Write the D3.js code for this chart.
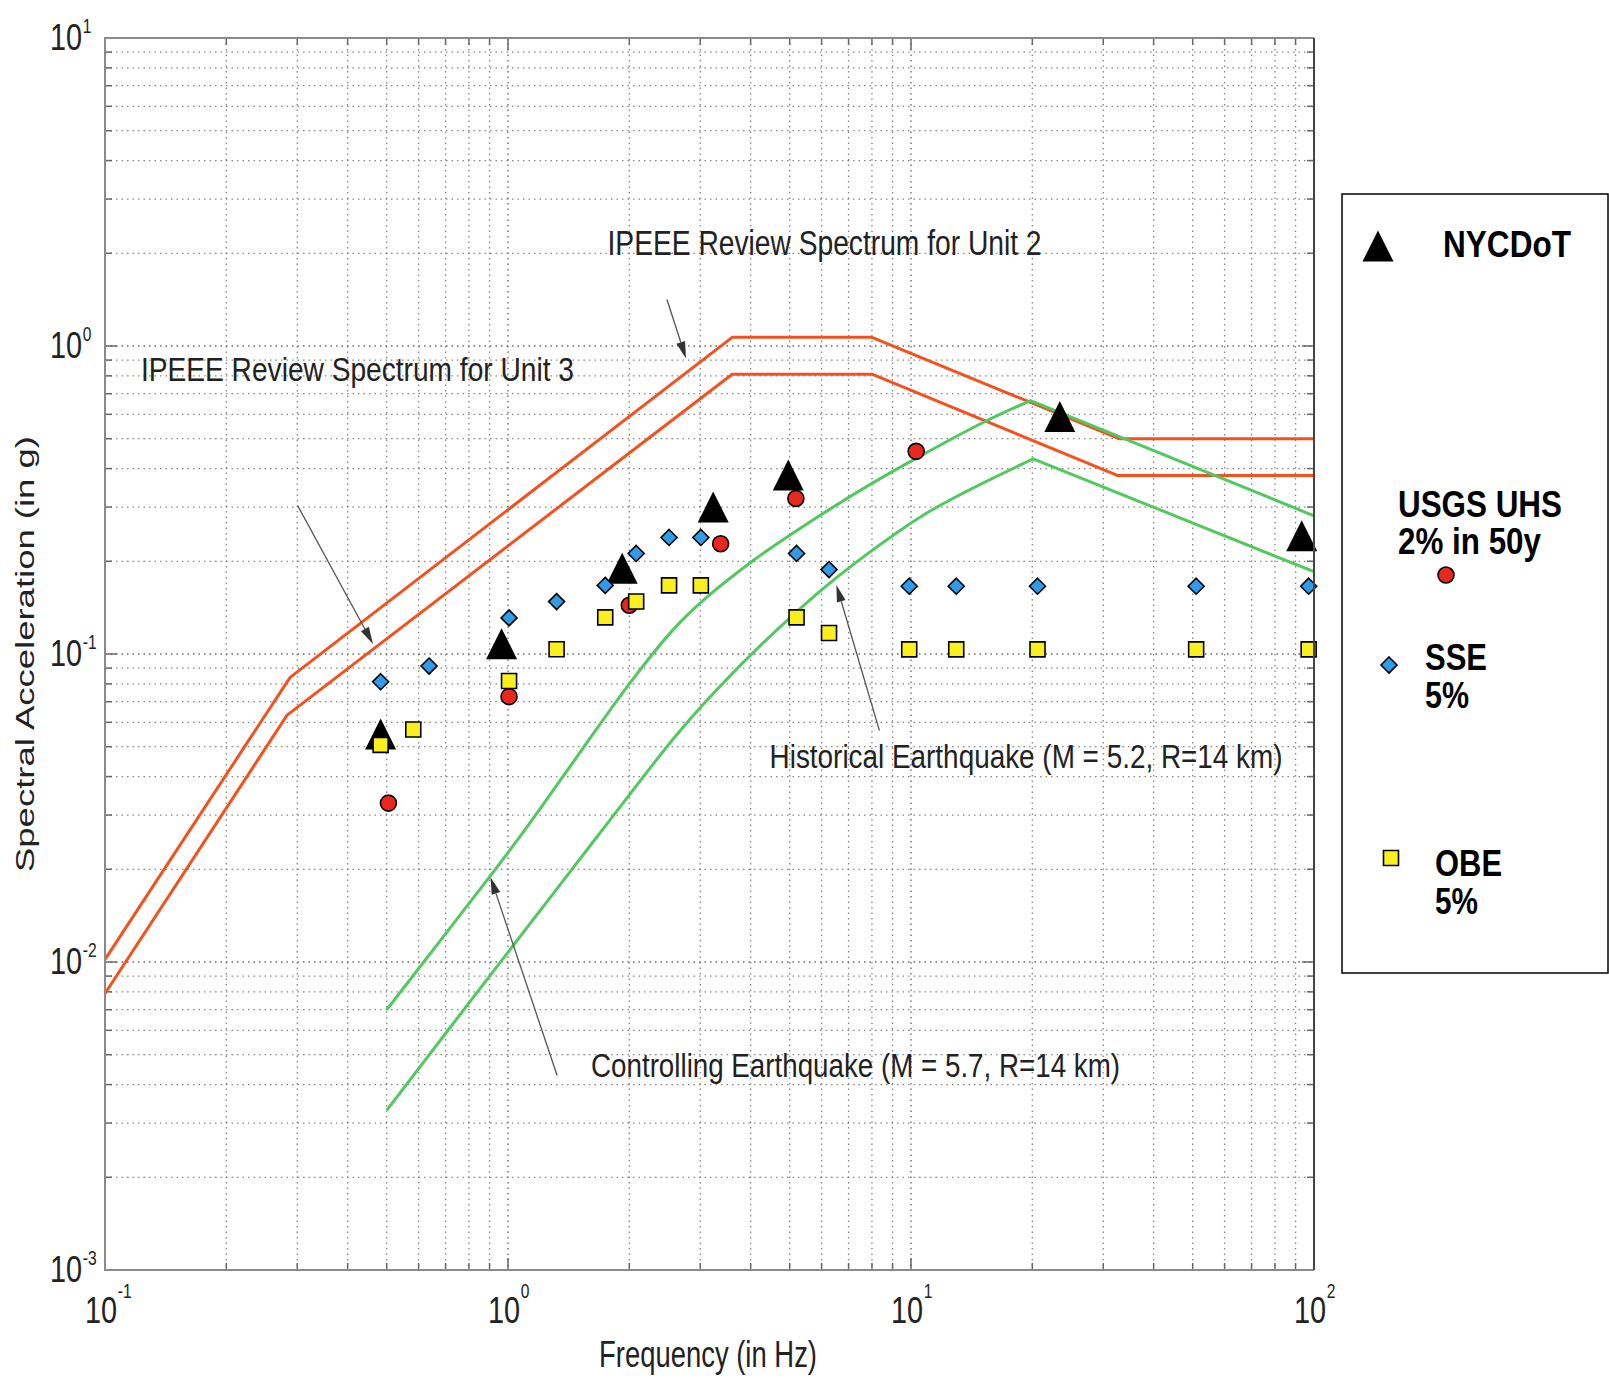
<!DOCTYPE html>
<html>
<head>
<meta charset="utf-8">
<script src="https://cdn.jsdelivr.net/npm/d3@7"></script>
<style>
  body { margin: 0; background: #fff; }
  svg { display: block; font-family: "Liberation Sans", Arial, sans-serif; }
</style>
</head>
<body>
<div class="chart"></div>
<script>
// IPEEE review spectra (red)
const unit2Freq = [0.1, 0.288, 3.6, 8, 32.8, 100];
const unit2Acc  = [0.0102, 0.084, 1.067, 1.067, 0.50, 0.50];
const unit3Freq = [0.1, 0.283, 3.6, 8, 32.5, 100];
const unit3Acc  = [0.0079, 0.0633, 0.81, 0.81, 0.38, 0.38];

// earthquake spectra (green), rising branch up to the peak, then the falling branch
const ctrlFreq = [0.5, 0.9, 1.1, 1.45, 2.0, 2.57, 3.1, 4.1, 5.2, 6.2, 8.0, 10, 15.4, 19.8, 100];
const ctrlAcc  = [0.0070, 0.0189, 0.0268, 0.0445, 0.080, 0.120, 0.152, 0.203, 0.2515, 0.292, 0.358, 0.423, 0.572, 0.665, 0.281];
const histFreq = [0.5, 0.9, 1.35, 1.72, 2.13, 2.57, 3.1, 4.1, 5.95, 7.2, 11.1, 20.1, 100];
const histAcc  = [0.0033, 0.0090, 0.0179, 0.0270, 0.0388, 0.053, 0.0702, 0.1024, 0.160, 0.1955, 0.29, 0.43, 0.185];

// site data (markers)
const nycdotFreq = [0.483, 0.964, 1.92, 3.23, 4.96, 23.4, 93.2];
const nycdotAcc  = [0.055, 0.108, 0.19, 0.30, 0.381, 0.59, 0.242];
const uhsFreq = [0.505, 1.006, 2.0, 3.37, 5.18, 10.3];
const uhsAcc  = [0.0328, 0.0727, 0.144, 0.228, 0.32, 0.455];
const sseFreq = [0.483, 0.637, 1.006, 1.32, 1.743, 2.08, 2.51, 3.01, 5.2, 6.26, 9.9, 12.95, 20.6, 51, 97];
const sseAcc  = [0.0813, 0.0914, 0.131, 0.148, 0.167, 0.212, 0.239, 0.239, 0.212, 0.188, 0.166, 0.166, 0.166, 0.166, 0.166];
const obeFreq = [0.483, 0.582, 1.006, 1.32, 1.743, 2.08, 2.51, 3.01, 5.2, 6.26, 9.9, 12.95, 20.6, 51, 97];
const obeAcc  = [0.0507, 0.0569, 0.0817, 0.1036, 0.1315, 0.148, 0.167, 0.167, 0.1315, 0.117, 0.1035, 0.1035, 0.1035, 0.1035, 0.1035];

const xTickLabels = ["-1", "0", "1", "2"];
const yTickLabels = ["-3", "-2", "-1", "0", "1"];

const width = 1609, height = 1379;
const plot = { left: 105, right: 1314, top: 38, bottom: 1270 };

const x = d3.scaleLog().domain([0.1, 100]).range([plot.left, plot.right]);
const y = d3.scaleLog().domain([0.001, 10]).range([plot.bottom, plot.top]);

const svg = d3.select('.chart')
	.append('svg')
	.attr('width', width)
	.attr('height', height);

const isMajor = v => Math.abs(Math.log10(v) - Math.round(Math.log10(v))) < 1e-9;
const xTicks = x.ticks();
const yTicks = y.ticks();

// dotted grid
const grid = svg.append('g')
	.attr('stroke', '#666')
	.attr('stroke-width', 1.3)
	.attr('stroke-dasharray', '1.5,4');
grid.selectAll('.gx')
	.data(xTicks.filter(v => v > 0.1 && v < 100))
	.join('line')
	.attr('x1', d => x(d)).attr('x2', d => x(d))
	.attr('y1', plot.top).attr('y2', plot.bottom)
	.attr('stroke-opacity', d => isMajor(d) ? 1 : 0.8);
grid.selectAll('.gy')
	.data(yTicks.filter(v => v > 0.001 && v < 10))
	.join('line')
	.attr('y1', d => y(d)).attr('y2', d => y(d))
	.attr('x1', plot.left).attr('x2', plot.right)
	.attr('stroke-opacity', d => isMajor(d) ? 1 : 0.8);

// ticks on all four sides, pointing in
const ticks = svg.append('g').attr('stroke', '#666').attr('stroke-width', 1.5);
xTicks.forEach(v => {
	const len = isMajor(v) ? 12 : 7;
	ticks.append('line').attr('x1', x(v)).attr('x2', x(v)).attr('y1', plot.bottom).attr('y2', plot.bottom - len);
	ticks.append('line').attr('x1', x(v)).attr('x2', x(v)).attr('y1', plot.top).attr('y2', plot.top + len);
});
yTicks.forEach(v => {
	const len = isMajor(v) ? 12 : 7;
	ticks.append('line').attr('y1', y(v)).attr('y2', y(v)).attr('x1', plot.left).attr('x2', plot.left + len);
	ticks.append('line').attr('y1', y(v)).attr('y2', y(v)).attr('x1', plot.right).attr('x2', plot.right - len);
});

// curves
const straight = d3.line().x(d => x(d[0])).y(d => y(d[1]));
const smooth = d3.line().x(d => x(d[0])).y(d => y(d[1])).curve(d3.curveCatmullRom.alpha(0.5));
const pairs = (f, a) => f.map((v, i) => [v, a[i]]);
const peakIndex = a => a.indexOf(d3.max(a));

const cg = svg.append('g').attr('fill', 'none').attr('stroke-linejoin', 'round');
[[unit2Freq, unit2Acc], [unit3Freq, unit3Acc]].forEach(([f, a]) => {
	cg.append('path').attr('stroke', '#f4511e').attr('stroke-width', 3).attr('d', straight(pairs(f, a)));
});
[[ctrlFreq, ctrlAcc], [histFreq, histAcc]].forEach(([f, a]) => {
	const pts = pairs(f, a);
	const k = peakIndex(a);
	// smooth rise, sharp peak, straight fall
	cg.append('path').attr('stroke', '#52c860').attr('stroke-width', 3)
		.attr('d', smooth(pts.slice(0, k + 1)) + straight(pts.slice(k)).replace(/^M/, 'L'));
});

// annotations (positions in data units)
const notes = [
	{ text: 'IPEEE Review Spectrum for Unit 2', f: 1.766, a: 1.975, len: 434, size: 35 },
	{ text: 'IPEEE Review Spectrum for Unit 3', f: 0.1228, a: 0.77, len: 433, size: 34 },
	{ text: 'Historical Earthquake (M = 5.2, R=14 km)', f: 4.457, a: 0.0427, len: 513, size: 34 },
	{ text: 'Controlling Earthquake (M = 5.7, R=14 km)', f: 1.607, a: 0.00423, len: 529, size: 34 }
];
svg.append('g')
	.attr('fill', '#222')
	.selectAll('text')
	.data(notes)
	.join('text')
	.attr('x', d => x(d.f))
	.attr('y', d => y(d.a))
	.attr('font-size', d => d.size)
	.attr('textLength', d => d.len)
	.attr('lengthAdjust', 'spacingAndGlyphs')
	.text(d => d.text);

const arrows = [
	{ f0: 2.48, a0: 1.415, f1: 2.765, a1: 0.911 },
	{ f0: 0.3006, a0: 0.3034, f1: 0.4624, a1: 0.1078 },
	{ f0: 8.35, a0: 0.0564, f1: 6.53, a1: 0.1675 },
	{ f0: 1.324, a0: 0.00428, f1: 0.905, a1: 0.01884 }
];
const ag = svg.append('g');
arrows.forEach(d => {
	const x0 = x(d.f0), y0 = y(d.a0), x1 = x(d.f1), y1 = y(d.a1);
	const ang = Math.atan2(y1 - y0, x1 - x0);
	const L = 17, W = 4.5;
	const bx = x1 - L * Math.cos(ang), by = y1 - L * Math.sin(ang);
	ag.append('line').attr('x1', x0).attr('y1', y0).attr('x2', bx).attr('y2', by)
		.attr('stroke', '#555').attr('stroke-width', 1.3);
	ag.append('path')
		.attr('d', `M${x1},${y1}L${bx + W * Math.sin(ang)},${by - W * Math.cos(ang)}L${bx - W * Math.sin(ang)},${by + W * Math.cos(ang)}Z`)
		.attr('fill', '#333');
});

// marker symbols
const symbols = {
	nycdot: { path: s => `M0,${-s / 2}L${s / 2},${s / 2}L${-s / 2},${s / 2}Z`, size: 31, fill: '#000', stroke: 'none' },
	uhs: { path: s => d3.symbol(d3.symbolCircle, Math.PI * s * s / 4)(), size: 16, fill: '#e8281e', stroke: '#000' },
	sse: { path: s => `M0,${-s / 2}L${s / 2},0L0,${s / 2}L${-s / 2},0Z`, size: 16, fill: '#2f9ceb', stroke: '#000' },
	obe: { path: s => `M${-s / 2},${-s / 2}H${s / 2}V${s / 2}H${-s / 2}Z`, size: 15, fill: '#f9ee1e', stroke: '#000' }
};
const series = [
	{ key: 'nycdot', f: nycdotFreq, a: nycdotAcc },
	{ key: 'uhs', f: uhsFreq, a: uhsAcc },
	{ key: 'sse', f: sseFreq, a: sseAcc },
	{ key: 'obe', f: obeFreq, a: obeAcc }
];
series.forEach(s => {
	const sym = symbols[s.key];
	svg.append('g')
		.selectAll('path')
		.data(pairs(s.f, s.a))
		.join('path')
		.attr('transform', d => `translate(${x(d[0])},${y(d[1])})`)
		.attr('d', sym.path(sym.size))
		.attr('fill', sym.fill)
		.attr('stroke', sym.stroke)
		.attr('stroke-width', 1.6);
});

// axes box
svg.append('path')
	.attr('d', `M${plot.right},${plot.top}H${plot.left}V${plot.bottom}H${plot.right}`)
	.attr('fill', 'none').attr('stroke', '#8a8a8a').attr('stroke-width', 2);
svg.append('line')
	.attr('x1', plot.right).attr('x2', plot.right).attr('y1', plot.top).attr('y2', plot.bottom)
	.attr('stroke', '#444').attr('stroke-width', 2);

// tick labels: 10 with superscript exponent
const xMajors = xTicks.filter(isMajor);
const xl = svg.append('g').attr('fill', '#222');
xMajors.forEach((v, i) => {
	const g = xl.append('g').attr('transform', `translate(${x(v) + 12},1323) scale(0.78,1)`);
	g.append('text').attr('text-anchor', 'end').attr('font-size', 37).text('10');
	g.append('text').attr('x', 1).attr('y', -25).attr('font-size', 20).text(xTickLabels[i]);
});
const yMajors = yTicks.filter(isMajor);
const yl = svg.append('g').attr('fill', '#222');
yMajors.forEach((v, i) => {
	const g = yl.append('g').attr('transform', `translate(82,${y(v) + 12}) scale(0.78,1)`);
	g.append('text').attr('text-anchor', 'end').attr('font-size', 37).text('10');
	g.append('text').attr('x', 1).attr('y', -17).attr('font-size', 20).text(yTickLabels[i]);
});

// axis titles
svg.append('text')
	.attr('x', 599).attr('y', 1367)
	.attr('font-size', 37).attr('fill', '#222')
	.attr('textLength', 218).attr('lengthAdjust', 'spacingAndGlyphs')
	.text('Frequency (in Hz)');
svg.append('text')
	.attr('transform', `translate(34,${(plot.top + plot.bottom) / 2 + 218}) rotate(-90)`)
	.attr('font-size', 25).attr('fill', '#222')
	.attr('textLength', 436).attr('lengthAdjust', 'spacingAndGlyphs')
	.text('Spectral Acceleration (in g)');

// legend
const legend = svg.append('g');
legend.append('rect')
	.attr('x', 1342).attr('y', 194).attr('width', 266).attr('height', 779)
	.attr('fill', '#fff').attr('stroke', '#000').attr('stroke-width', 1.5);
const legendItems = [
	{ key: 'nycdot', mx: 1378, my: 246, lines: [['NYCDoT', 1443, 257, 128]] },
	{ key: 'uhs', mx: 1446, my: 575, lines: [['USGS UHS', 1398, 517, 164], ['2% in 50y', 1398, 554, 143]] },
	{ key: 'sse', mx: 1389, my: 665, lines: [['SSE', 1425, 670, 62], ['5%', 1425, 708, 44]] },
	{ key: 'obe', mx: 1391, my: 858, lines: [['OBE', 1435, 876, 67], ['5%', 1435, 914, 43]] }
];
legendItems.forEach(it => {
	const sym = symbols[it.key];
	legend.append('path')
		.attr('transform', `translate(${it.mx},${it.my})`)
		.attr('d', sym.path(sym.size))
		.attr('fill', sym.fill).attr('stroke', sym.stroke).attr('stroke-width', 1.6);
	it.lines.forEach(([t, tx, ty, len]) => {
		legend.append('text')
			.attr('x', tx).attr('y', ty)
			.attr('font-size', 36).attr('font-weight', 'bold')
			.attr('textLength', len).attr('lengthAdjust', 'spacingAndGlyphs')
			.text(t);
	});
});
</script>
</body>
</html>
